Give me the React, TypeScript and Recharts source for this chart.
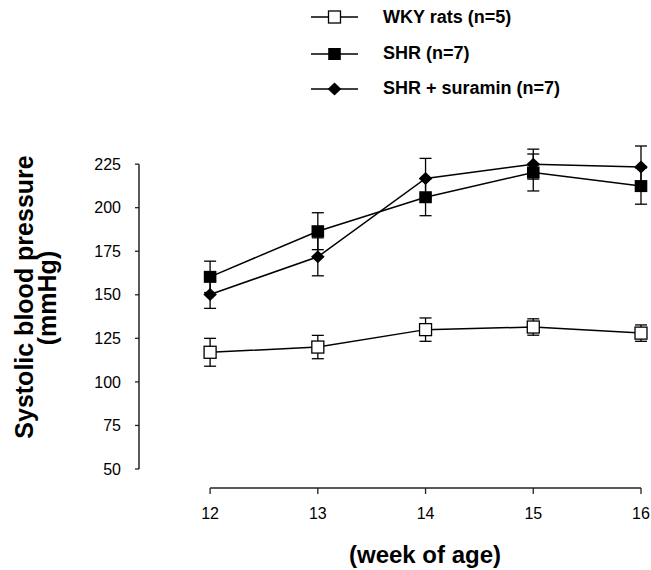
import { ErrorBar, Legend, Line, LineChart, ReferenceLine, XAxis, YAxis } from "recharts"

const weeks = [12, 13, 14, 15, 16]
const wkyMean = [117, 120, 130, 131.5, 128]
const wkyErr = [8, 6.7, 6.7, 4.7, 4.7]
const shrMean = [160.3, 186.5, 206, 220.2, 212.4]
const shrErr = [9, 10.6, 10.6, 10.6, 10.4]
const suraminMean = [150.2, 171.8, 216.8, 225, 223.4]
const suraminErr = [8, 10.9, 11.5, 8.6, 12]
const yTicks = [50, 75, 100, 125, 150, 175, 200, 225]

const data = weeks.map((week, i) => ({
  week,
  wky: wkyMean[i],
  wkyErr: wkyErr[i],
  shr: shrMean[i],
  shrErr: shrErr[i],
  sur: suraminMean[i],
  surErr: suraminErr[i],
}))

const FONT = '"Liberation Sans", Arial, Helvetica, sans-serif'
// where the y axis sits on the week scale, and where the detached x axis sits on the mmHg scale
const X_MIN = 11.34
const Y_MAX = 240
const AXIS_Y = 39.1

type Kind = "open" | "square" | "diamond"

const series: { key: string; err: string; kind: Kind; name: string }[] = [
  { key: "wky", err: "wkyErr", kind: "open", name: "WKY rats (n=5)" },
  { key: "shr", err: "shrErr", kind: "square", name: "SHR (n=7)" },
  { key: "sur", err: "surErr", kind: "diamond", name: "SHR + suramin (n=7)" },
]

function Marker({ cx, cy, kind }: { cx: number; cy: number; kind: Kind }) {
  if (cx == null || cy == null) return null
  if (kind === "open")
    return <rect x={cx - 6} y={cy - 6} width={12} height={12} fill="#fff" stroke="#000" strokeWidth={1.3} />
  if (kind === "square") return <rect x={cx - 6.3} y={cy - 6} width={12.6} height={12} fill="#000" />
  return (
    <polygon
      points={`${cx},${cy - 6.5} ${cx + 6.8},${cy} ${cx},${cy + 6.5} ${cx - 6.8},${cy}`}
      fill="#000"
    />
  )
}

function LegendBox() {
  return (
    <div style={{ fontFamily: FONT, fontSize: 18, fontWeight: 700, color: "#000" }}>
      {series.map((s, i) => (
        <div
          key={s.key}
          style={{ display: "flex", alignItems: "center", height: i === 0 ? 38 : 35 }}
        >
          <svg width={47} height={16} style={{ overflow: "visible" }}>
            <line x1={0} x2={47} y1={8} y2={8} stroke="#000" strokeWidth={1.5} />
            <Marker cx={23.5} cy={8} kind={s.kind} />
          </svg>
          <span style={{ marginLeft: 25 }}>{s.name}</span>
        </div>
      ))}
    </div>
  )
}

function WeekTick({ x, y, payload }: any) {
  return (
    <g>
      <line x1={x} x2={x} y1={y + 19} y2={y + 25} stroke="#222" strokeWidth={1.3} />
      <text x={x} y={y + 50} textAnchor="middle" fontSize={16} fontFamily={FONT} fill="#000">
        {payload.value}
      </text>
    </g>
  )
}

function YLabel() {
  return (
    <g fontFamily={FONT} fontSize={25} fontWeight={700} fill="#000" textAnchor="middle">
      <text transform="translate(33, 297) rotate(-90)">Systolic blood pressure</text>
      <text transform="translate(56, 298) rotate(-90)">(mmHg)</text>
    </g>
  )
}

function XLabel() {
  return (
    <text x={425} y={563} textAnchor="middle" fontFamily={FONT} fontSize={24} fontWeight={700} fill="#000">
      (week of age)
    </text>
  )
}

export default function App() {
  return (
    <div style={{ position: "absolute", left: 0, top: 0, background: "#fff" }}>
      <LineChart width={651} height={570} data={data} margin={{ top: 138, right: 10, bottom: 0, left: 0 }}>
        <XAxis
          dataKey="week"
          type="number"
          domain={[X_MIN, 16]}
          ticks={weeks}
          interval={0}
          height={101}
          axisLine={false}
          tickLine={false}
          tickSize={0}
          tickMargin={0}
          tick={<WeekTick />}
          label={{ content: () => <XLabel /> }}
        />
        <YAxis
          type="number"
          domain={[50, Y_MAX]}
          ticks={yTicks}
          interval={0}
          width={139}
          axisLine={false}
          tickLine={{ stroke: "#222", strokeWidth: 1.3 }}
          tickSize={4}
          tickMargin={14}
          tick={{ fill: "#000", fontSize: 16, fontFamily: FONT }}
          label={{ content: () => <YLabel /> }}
        />
        <ReferenceLine
          segment={[{ x: X_MIN, y: 50 }, { x: X_MIN, y: 225 }]}
          stroke="#222"
          strokeWidth={1.5}
          ifOverflow="visible"
        />
        <ReferenceLine
          segment={[{ x: 12, y: AXIS_Y }, { x: 16, y: AXIS_Y }]}
          stroke="#222"
          strokeWidth={1.5}
          ifOverflow="visible"
        />
        <Legend
          layout="vertical"
          align="center"
          verticalAlign="middle"
          content={() => <LegendBox />}
          wrapperStyle={{ top: -2, left: 311, width: 330 }}
        />
        {series.map((s) => (
          <Line
            key={s.key}
            type="linear"
            dataKey={s.key}
            name={s.name}
            stroke="#000"
            strokeWidth={1.5}
            activeDot={false}
            isAnimationActive={false}
            dot={(p: any) => <Marker key={`${s.key}-${p.index}`} cx={p.cx} cy={p.cy} kind={s.kind} />}
          >
            <ErrorBar
              dataKey={s.err}
              direction="y"
              width={6}
              stroke="#000"
              strokeWidth={1.3}
              isAnimationActive={false}
            />
          </Line>
        ))}
      </LineChart>
    </div>
  )
}
